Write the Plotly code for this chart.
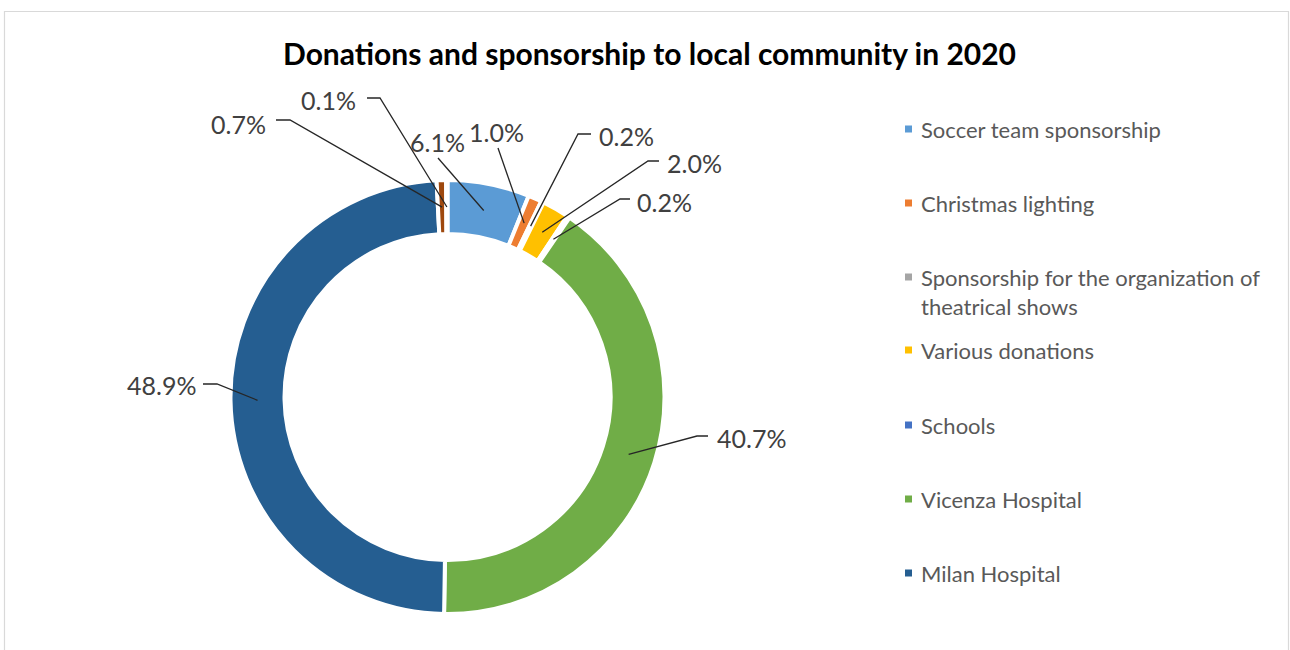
import math
import plotly.graph_objects as go

# ---- data ----
categories = [
    "Soccer team sponsorship",
    "Christmas lighting",
    "Sponsorship for the organization of theatrical shows",
    "Various donations",
    "Schools",
    "Vicenza Hospital",
    "Milan Hospital",
    "Other (a)",
    "Other (b)",
]
values = [6.1, 1.0, 0.2, 2.0, 0.2, 40.7, 48.9, 0.7, 0.1]
legend_labels = [
    "Soccer team sponsorship",
    "Christmas lighting",
    "Sponsorship for the organization of<br>theatrical shows",
    "Various donations",
    "Schools",
    "Vicenza Hospital",
    "Milan Hospital",
]
colors = ["#5B9BD5", "#ED7D31", "#A5A5A5", "#FFC000", "#4472C4",
          "#70AD47", "#255E91", "#9E480E", "#636363"]
title_text = "Donations and sponsorship to local community in 2020"

# ---- layout (pixels) ----
W, H = 1290, 650
CX, CY = 447.5, 397.0
R_OUT, R_IN = 215.0, 165.0
LINE_W = 4


def px(x):
    return x / W


def py(y):
    return 1 - y / H


pad = LINE_W / 2
pie = go.Pie(
    labels=categories,
    values=values,
    sort=False,
    direction="clockwise",
    rotation=0,
    hole=(R_IN - pad) / (R_OUT + pad),
    marker=dict(colors=colors, line=dict(color="white", width=LINE_W)),
    textinfo="none",
    hoverinfo="label+percent",
    showlegend=False,
    domain=dict(x=[px(CX - R_OUT - pad), px(CX + R_OUT + pad)],
                y=[py(CY + R_OUT + pad), py(CY - R_OUT - pad)]),
)

fig = go.Figure(pie)

# label placements: (text x, text y, anchor, elbow points list)
label_place = [
    dict(tx=437, ty=142, xa="center", pts=[(438, 158)]),
    dict(tx=497, ty=132, xa="center", pts=[(498, 148)]),
    dict(tx=597, ty=136, xa="left", pts=[(578, 134), (591, 134)]),
    dict(tx=665, ty=163, xa="left", pts=[(648, 161), (659, 161)]),
    dict(tx=635, ty=202, xa="left", pts=[(620, 199), (630, 199)]),
    dict(tx=715, ty=438, xa="left", pts=[(697, 436), (708, 436)]),
    dict(tx=198, ty=385, xa="right", pts=[(217, 384), (203, 384)]),
    dict(tx=268, ty=124, xa="right", pts=[(290, 120), (276, 120)]),
    dict(tx=358, ty=100, xa="right", pts=[(380, 98), (367, 98)]),
]

total = sum(values)
shapes = []
annotations = []
cum = 0.0
r_mid = (R_OUT + R_IN) / 2
for v, lp in zip(values, label_place):
    mid = (cum + v / 2) / total
    cum += v
    ang = 2 * math.pi * mid
    tipx = CX + r_mid * math.sin(ang)
    tipy = CY - r_mid * math.cos(ang)
    pts = [(tipx, tipy)] + lp["pts"]
    path = "M " + " L ".join(f"{px(x):.5f},{py(y):.5f}" for x, y in pts)
    shapes.append(dict(type="path", xref="paper", yref="paper", path=path,
                       line=dict(color="#262626", width=1.3)))
    annotations.append(dict(
        x=px(lp["tx"]), y=py(lp["ty"]), xref="paper", yref="paper",
        text=f"{v / total * 100:.1f}%", showarrow=False,
        xanchor=lp["xa"], yanchor="middle",
        font=dict(family="Lato", size=25, color="#404040")))

# legend drawn manually
leg_y = [129, 203, 277, 350, 425, 499, 573]
for lab, col, y in zip(legend_labels, colors, leg_y):
    shapes.append(dict(type="rect", xref="paper", yref="paper",
                       x0=px(905), x1=px(912), y0=py(y + 3.5), y1=py(y - 3.5),
                       fillcolor=col, line=dict(width=0)))
    annotations.append(dict(
        x=px(919), y=py(y - 15), xref="paper", yref="paper",
        text=lab, showarrow=False, xanchor="left", yanchor="top", align="left",
        font=dict(family="Lato", size=22, color="#595959")))

# chart border
shapes.append(dict(type="rect", xref="paper", yref="paper",
                   x0=px(4.5), x1=px(1288.5), y0=py(700), y1=py(11.5),
                   line=dict(color="#D9D9D9", width=1.2), fillcolor="rgba(0,0,0,0)"))

fig.update_layout(
    width=W, height=H,
    margin=dict(l=0, r=0, t=0, b=0),
    paper_bgcolor="white",
    plot_bgcolor="white",
    title=dict(text=f"<b>{title_text}</b>", x=px(649.5), y=py(54),
               xanchor="center", yanchor="middle",
               font=dict(family="Lato", size=30, color="#000000")),
    shapes=shapes,
    annotations=annotations,
)

fig.write_html("out.html",
               config={"displayModeBar": False},
               post_script="document.body.style.margin='0';document.body.style.overflow='hidden';")
